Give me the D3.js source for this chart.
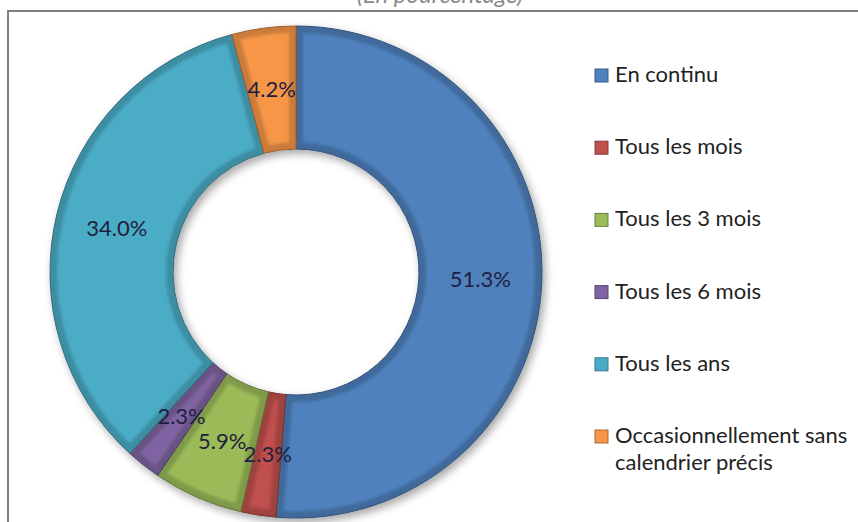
<!DOCTYPE html>
<html>
<head>
<meta charset="utf-8">
<script src="https://cdn.jsdelivr.net/npm/d3@7"></script>
<style>
  body { margin: 0; background: #fff; }
  svg { display: block; font-family: Lato, "Open Sans", sans-serif; }
</style>
</head>
<body>
<script>
// Data
const categories = ["En continu", "Tous les mois", "Tous les 3 mois", "Tous les 6 mois", "Tous les ans", "Occasionnellement sans|calendrier précis"];
const values = [51.3, 2.3, 5.9, 2.3, 34.0, 4.2];
const colors = ["#4f81bd", "#c0504d", "#9bbb59", "#8064a2", "#4bacc6", "#f79646"];
const title = "(En pourcentage)";

const width = 858;
const height = 522;
const cx = 296, cy = 272;
const outerR = 246, innerR = 123;

const svg = d3.select("body")
    .append("svg")
    .attr("width", width)
    .attr("height", height);

const defs = svg.append("defs");

// drop shadow under the ring
const shadow = defs.append("filter")
    .attr("id", "shadow")
    .attr("x", "-20%").attr("y", "-20%")
    .attr("width", "140%").attr("height", "140%");
shadow.append("feDropShadow")
    .attr("dx", 3).attr("dy", 4)
    .attr("stdDeviation", 4)
    .attr("flood-color", "#000")
    .attr("flood-opacity", 0.35);

// soft edge for the bevel faces
const soft = defs.append("filter").attr("id", "soft");
soft.append("feGaussianBlur").attr("stdDeviation", 1.8);

// frame (only left and top edges are visible)
svg.append("rect")
    .attr("x", 8)
    .attr("y", 11)
    .attr("width", width + 20)
    .attr("height", height + 20)
    .attr("fill", "none")
    .attr("stroke", "#808080")
    .attr("stroke-width", 2);

// title, cut by the top of the picture as in the source
svg.append("text")
    .attr("x", 440)
    .attr("y", 3)
    .attr("text-anchor", "middle")
    .attr("font-style", "italic")
    .attr("font-size", 24)
    .attr("fill", "#8a8a8a")
    .text(title);

const pie = d3.pie().sort(null).value(d => d)(values);

const arcFull = d3.arc().innerRadius(innerR).outerRadius(outerR);
const arcFace = d3.arc()
    .innerRadius(innerR + 7)
    .outerRadius(outerR - 7)
    .padRadius(outerR)
    .padAngle(14 / outerR);

const ring = svg.append("g")
    .attr("transform", `translate(${cx}, ${cy})`);

const base = ring.append("g").attr("filter", "url(#shadow)");

base.selectAll(".edge")
    .data(pie)
    .enter()
    .append("path")
    .attr("class", "edge")
    .attr("d", arcFull)
    .attr("fill", (d, i) => d3.color(colors[i]).darker(0.55))
    .attr("stroke", (d, i) => d3.color(colors[i]).darker(1.3))
    .attr("stroke-width", 1);

ring.selectAll(".face")
    .data(pie)
    .enter()
    .append("path")
    .attr("class", "face")
    .attr("d", arcFace)
    .attr("fill", (d, i) => colors[i])
    .attr("filter", "url(#soft)");

// data labels at the slice centroids
ring.selectAll(".lbl")
    .data(pie)
    .enter()
    .append("text")
    .attr("class", "lbl")
    .attr("transform", d => `translate(${arcFull.centroid(d)})`)
    .attr("text-anchor", "middle")
    .attr("dy", "0.35em")
    .attr("font-size", 22)
    .attr("fill", "#1f2040")
    .text(d => d.data.toFixed(1) + "%");

// legend
const legend = svg.append("g");
const legendY = d3.scalePoint()
    .domain(d3.range(categories.length))
    .range([82, 443]);

const items = legend.selectAll(".item")
    .data(categories)
    .enter()
    .append("g")
    .attr("class", "item")
    .attr("transform", (d, i) => `translate(595, ${legendY(i)})`);

items.append("rect")
    .attr("x", 0)
    .attr("y", -13)
    .attr("width", 13)
    .attr("height", 13)
    .attr("fill", (d, i) => colors[i])
    .attr("stroke", (d, i) => d3.color(colors[i]).darker(1))
    .attr("stroke-width", 1);

items.append("text")
    .attr("x", 20)
    .attr("y", 0)
    .attr("font-size", 22)
    .attr("fill", "#222")
    .each(function (d) {
        const lines = d.split("|");
        d3.select(this).selectAll("tspan")
            .data(lines)
            .enter()
            .append("tspan")
            .attr("x", 20)
            .attr("dy", (l, j) => j === 0 ? 0 : 27)
            .text(l => l);
    });
</script>
</body>
</html>
